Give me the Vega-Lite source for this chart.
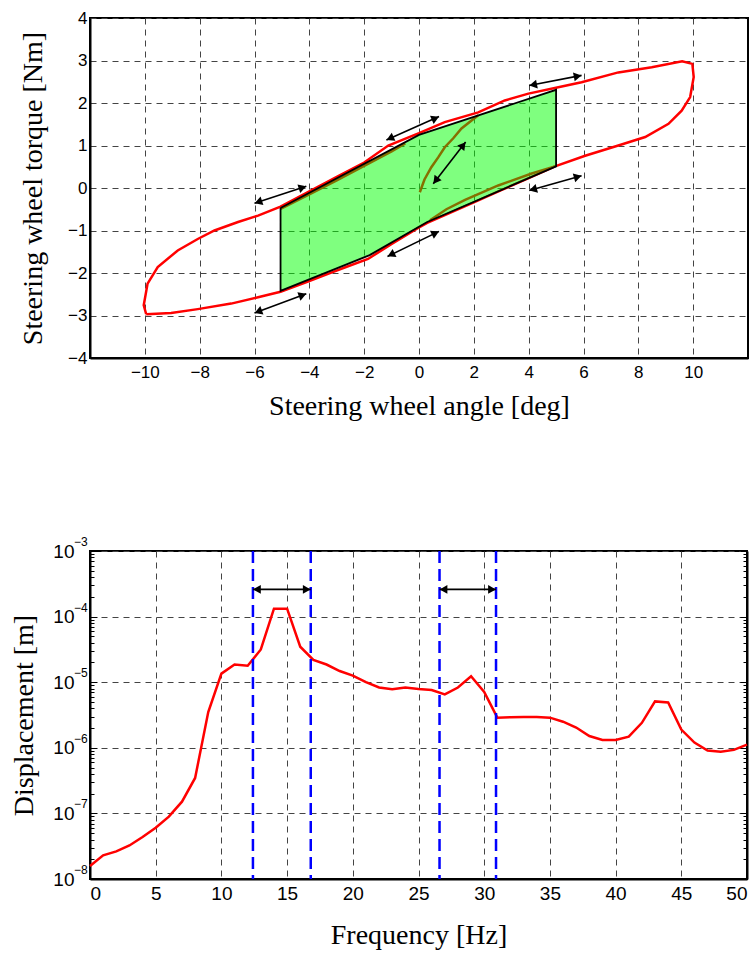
{
  "$schema": "https://vega.github.io/schema/vega-lite/v6.json",
  "padding": {"left": 9, "top": 8, "right": 0, "bottom": 0},
  "background": "white",
  "datasets": {
    "loop": [
      {"i": 1, "x": -9.95, "y": -2.97}, {"i": 2, "x": -9.04, "y": -2.94}, {"i": 3, "x": -8.07, "y": -2.85},
      {"i": 4, "x": -6.85, "y": -2.72}, {"i": 5, "x": -5.87, "y": -2.57}, {"i": 6, "x": -5.05, "y": -2.44},
      {"i": 7, "x": -4.05, "y": -2.2}, {"i": 8, "x": -3.2, "y": -1.99}, {"i": 9, "x": -2.71, "y": -1.87},
      {"i": 10, "x": -1.86, "y": -1.67}, {"i": 11, "x": -1.01, "y": -1.32}, {"i": 12, "x": -0.03, "y": -0.94},
      {"i": 13, "x": 0.3, "y": -0.82}, {"i": 14, "x": 2.0, "y": -0.34}, {"i": 15, "x": 3.0, "y": -0.05},
      {"i": 16, "x": 4.0, "y": 0.23}, {"i": 17, "x": 4.96, "y": 0.51}, {"i": 18, "x": 6.06, "y": 0.76},
      {"i": 19, "x": 7.27, "y": 1.0}, {"i": 20, "x": 8.25, "y": 1.2}, {"i": 21, "x": 9.1, "y": 1.51},
      {"i": 22, "x": 9.58, "y": 1.82}, {"i": 23, "x": 9.89, "y": 2.14}, {"i": 24, "x": 10.02, "y": 2.61},
      {"i": 25, "x": 9.97, "y": 2.92}, {"i": 26, "x": 9.6, "y": 2.98}, {"i": 27, "x": 8.49, "y": 2.84},
      {"i": 28, "x": 7.27, "y": 2.72}, {"i": 29, "x": 5.93, "y": 2.49}, {"i": 30, "x": 5.08, "y": 2.37},
      {"i": 31, "x": 3.99, "y": 2.22}, {"i": 32, "x": 3.13, "y": 2.06}, {"i": 33, "x": 2.16, "y": 1.78},
      {"i": 34, "x": 0.94, "y": 1.55}, {"i": 35, "x": 0.0, "y": 1.29}, {"i": 36, "x": -1.12, "y": 1.0},
      {"i": 37, "x": -2.0, "y": 0.6}, {"i": 38, "x": -3.0, "y": 0.26}, {"i": 39, "x": -4.0, "y": -0.08},
      {"i": 40, "x": -5.05, "y": -0.44}, {"i": 41, "x": -5.87, "y": -0.65}, {"i": 42, "x": -6.6, "y": -0.8},
      {"i": 43, "x": -7.46, "y": -1.0}, {"i": 44, "x": -8.07, "y": -1.2}, {"i": 45, "x": -8.8, "y": -1.47},
      {"i": 46, "x": -9.53, "y": -1.86}, {"i": 47, "x": -9.9, "y": -2.25}, {"i": 48, "x": -10.04, "y": -2.76},
      {"i": 49, "x": -9.95, "y": -2.97}
    ],
    "poly": [
      {"x": -5.05, "top": -0.47, "bottom": -2.42},
      {"x": -1.8, "top": 0.64, "bottom": -1.58},
      {"x": 0.0, "top": 1.25, "bottom": -0.91},
      {"x": 0.3, "top": 1.31, "bottom": -0.8},
      {"x": 5.0, "top": 2.31, "bottom": 0.51}
    ],
    "outline": [
      {"i": 1, "x": -5.05, "y": -0.47}, {"i": 2, "x": 0.0, "y": 1.25}, {"i": 3, "x": 5.0, "y": 2.31},
      {"i": 4, "x": 5.0, "y": 0.51}, {"i": 5, "x": 0.3, "y": -0.8}, {"i": 6, "x": -1.8, "y": -1.58},
      {"i": 7, "x": -5.05, "y": -2.42}, {"i": 8, "x": -5.05, "y": -0.47}
    ],
    "brown": [
      {"seg": "A", "i": 1, "x": 0.03, "y": -0.1}, {"seg": "A", "i": 2, "x": 0.2, "y": 0.2},
      {"seg": "A", "i": 3, "x": 0.45, "y": 0.49}, {"seg": "A", "i": 4, "x": 0.7, "y": 0.72},
      {"seg": "A", "i": 5, "x": 0.94, "y": 0.96}, {"seg": "A", "i": 6, "x": 1.25, "y": 1.17},
      {"seg": "A", "i": 7, "x": 1.55, "y": 1.4}, {"seg": "A", "i": 8, "x": 2.16, "y": 1.71},
      {"seg": "B", "i": 1, "x": -5.05, "y": -0.49}, {"seg": "B", "i": 2, "x": -4.0, "y": -0.15},
      {"seg": "B", "i": 3, "x": -3.0, "y": 0.18}, {"seg": "B", "i": 4, "x": -2.0, "y": 0.52},
      {"seg": "B", "i": 5, "x": -1.0, "y": 0.86}, {"seg": "B", "i": 6, "x": -0.5, "y": 1.05},
      {"seg": "C", "i": 1, "x": 0.4, "y": -0.76}, {"seg": "C", "i": 2, "x": 1.0, "y": -0.5},
      {"seg": "C", "i": 3, "x": 1.68, "y": -0.28}, {"seg": "C", "i": 4, "x": 2.89, "y": 0.06},
      {"seg": "C", "i": 5, "x": 4.11, "y": 0.34}, {"seg": "C", "i": 6, "x": 4.96, "y": 0.51}
    ],
    "arrows": [
      {"x1": -6.0, "y1": -0.36, "x2": -4.11, "y2": 0.04},
      {"x1": -6.0, "y1": -2.94, "x2": -4.11, "y2": -2.49},
      {"x1": -1.19, "y1": 1.13, "x2": 0.73, "y2": 1.68},
      {"x1": 4.02, "y1": 2.41, "x2": 5.93, "y2": 2.65},
      {"x1": 0.52, "y1": 0.1, "x2": 1.7, "y2": 1.08},
      {"x1": 4.02, "y1": -0.06, "x2": 5.93, "y2": 0.29},
      {"x1": -1.15, "y1": -1.61, "x2": 0.73, "y2": -1.02}
    ],
    "freq": [
      {"f": 0, "d": 1.58e-8}, {"f": 1, "d": 2.29e-8}, {"f": 2, "d": 2.63e-8}, {"f": 3, "d": 3.24e-8},
      {"f": 4, "d": 4.37e-8}, {"f": 5, "d": 6.03e-8}, {"f": 6, "d": 8.91e-8}, {"f": 7, "d": 1.51e-7},
      {"f": 8, "d": 3.47e-7}, {"f": 9, "d": 3.5e-6}, {"f": 10, "d": 1.35e-5}, {"f": 11, "d": 1.86e-5},
      {"f": 12, "d": 1.78e-5}, {"f": 13, "d": 3.16e-5}, {"f": 14, "d": 1.32e-4}, {"f": 15, "d": 1.32e-4},
      {"f": 16, "d": 3.47e-5}, {"f": 17, "d": 2.19e-5}, {"f": 18, "d": 1.86e-5}, {"f": 19, "d": 1.48e-5},
      {"f": 20, "d": 1.26e-5}, {"f": 21, "d": 1.0e-5}, {"f": 22, "d": 8.3e-6}, {"f": 23, "d": 7.8e-6},
      {"f": 24, "d": 8.3e-6}, {"f": 25, "d": 7.9e-6}, {"f": 26, "d": 7.6e-6}, {"f": 27, "d": 6.5e-6},
      {"f": 28, "d": 8.3e-6}, {"f": 29, "d": 1.23e-5}, {"f": 30, "d": 7.1e-6}, {"f": 31, "d": 2.88e-6},
      {"f": 32, "d": 2.92e-6}, {"f": 33, "d": 2.95e-6}, {"f": 34, "d": 2.95e-6}, {"f": 35, "d": 2.88e-6},
      {"f": 36, "d": 2.5e-6}, {"f": 37, "d": 2.04e-6}, {"f": 38, "d": 1.51e-6}, {"f": 39, "d": 1.32e-6},
      {"f": 40, "d": 1.32e-6}, {"f": 41, "d": 1.48e-6}, {"f": 42, "d": 2.4e-6}, {"f": 43, "d": 5.1e-6},
      {"f": 44, "d": 4.9e-6}, {"f": 45, "d": 1.9e-6}, {"f": 46, "d": 1.2e-6}, {"f": 47, "d": 9.1e-7},
      {"f": 48, "d": 8.7e-7}, {"f": 49, "d": 9.3e-7}, {"f": 50, "d": 1.12e-6}
    ],
    "bands": [{"f": 12.4}, {"f": 16.8}, {"f": 26.6}, {"f": 30.9}],
    "spans": [{"f1": 12.4, "f2": 16.8, "d": 2.6e-4}, {"f1": 26.6, "f2": 30.9, "d": 2.6e-4}],
    "exps": [
      {"v": 1e-8, "e": "−8"}, {"v": 1e-7, "e": "−7"}, {"v": 1e-6, "e": "−6"},
      {"v": 1e-5, "e": "−5"}, {"v": 1e-4, "e": "−4"}, {"v": 1e-3, "e": "−3"}
    ]
  },
  "vconcat": [
    {
      "width": 658,
      "height": 340,
      "layer": [
        {
          "data": {"name": "loop"},
          "mark": {"type": "line", "color": "#ff0000", "strokeWidth": 2.5},
          "encoding": {
            "x": {"field": "x", "type": "quantitative", "scale": {"domain": [-12, 12], "nice": false, "zero": false},
                  "axis": {"title": "Steering wheel angle [deg]", "values": [-10, -8, -6, -4, -2, 0, 2, 4, 6, 8, 10], "labelPadding": 6, "titlePadding": 12}},
            "y": {"field": "y", "type": "quantitative", "scale": {"domain": [-4, 4], "nice": false, "zero": false},
                  "axis": {"title": "Steering wheel torque [Nm]", "values": [-4, -3, -2, -1, 0, 1, 2, 3, 4], "labelPadding": 3, "titlePadding": 20}},
            "order": {"field": "i", "type": "quantitative"}
          }
        },
        {
          "data": {"name": "poly"},
          "mark": {"type": "area", "color": "#00ff00", "fillOpacity": 0.5},
          "encoding": {
            "x": {"field": "x", "type": "quantitative"},
            "y": {"field": "top", "type": "quantitative"},
            "y2": {"field": "bottom"}
          }
        },
        {
          "data": {"name": "brown"},
          "mark": {"type": "line", "color": "#857000", "strokeWidth": 2.5},
          "encoding": {
            "x": {"field": "x", "type": "quantitative"},
            "y": {"field": "y", "type": "quantitative"},
            "detail": {"field": "seg"},
            "order": {"field": "i", "type": "quantitative"}
          }
        },
        {
          "data": {"name": "outline"},
          "mark": {"type": "line", "color": "black", "strokeWidth": 1.8},
          "encoding": {
            "x": {"field": "x", "type": "quantitative"},
            "y": {"field": "y", "type": "quantitative"},
            "order": {"field": "i", "type": "quantitative"}
          }
        },
        {
          "data": {"name": "arrows"},
          "mark": {"type": "rule", "color": "black", "strokeWidth": 1.6},
          "encoding": {
            "x": {"field": "x1", "type": "quantitative"},
            "y": {"field": "y1", "type": "quantitative"},
            "x2": {"field": "x2"},
            "y2": {"field": "y2"}
          }
        },
        {
          "data": {"name": "arrows"},
          "mark": {"type": "point", "shape": "triangle-right", "filled": true, "color": "black", "opacity": 1, "size": 80,
                   "angle": {"expr": "atan2(-(datum.y2-datum.y1)*42.5, (datum.x2-datum.x1)*27.42)*180/PI"},
                   "xOffset": {"expr": "-4*cos(atan2(-(datum.y2-datum.y1)*42.5, (datum.x2-datum.x1)*27.42))"},
                   "yOffset": {"expr": "-4*sin(atan2(-(datum.y2-datum.y1)*42.5, (datum.x2-datum.x1)*27.42))"}},
          "encoding": {
            "x": {"field": "x2", "type": "quantitative"},
            "y": {"field": "y2", "type": "quantitative"}
          }
        },
        {
          "data": {"name": "arrows"},
          "mark": {"type": "point", "shape": "triangle-right", "filled": true, "color": "black", "opacity": 1, "size": 80,
                   "angle": {"expr": "atan2(-(datum.y2-datum.y1)*42.5, (datum.x2-datum.x1)*27.42)*180/PI + 180"},
                   "xOffset": {"expr": "4*cos(atan2(-(datum.y2-datum.y1)*42.5, (datum.x2-datum.x1)*27.42))"},
                   "yOffset": {"expr": "4*sin(atan2(-(datum.y2-datum.y1)*42.5, (datum.x2-datum.x1)*27.42))"}},
          "encoding": {
            "x": {"field": "x1", "type": "quantitative"},
            "y": {"field": "y1", "type": "quantitative"}
          }
        }
      ]
    },
    {
      "width": 657,
      "height": 328,
      "layer": [
        {
          "data": {"name": "freq"},
          "mark": {"type": "line", "color": "#ff0000", "strokeWidth": 2.5},
          "encoding": {
            "x": {"field": "f", "type": "quantitative", "scale": {"domain": [0, 50], "nice": false},
                  "axis": {"title": "Frequency [Hz]", "values": [0, 5, 10, 15, 20, 25, 30, 35, 40, 45, 50], "labelFontSize": 19, "labelPadding": 5, "titlePadding": 18}},
            "y": {"field": "d", "type": "quantitative", "scale": {"type": "log", "domain": [1e-8, 1e-3], "nice": false},
                  "axis": {
                    "title": "Displacement [m]",
                    "titlePadding": 14,
                    "labelFontSize": 19,
                    "labelPadding": 23,
                    "values": [1e-8, 2e-8, 3e-8, 4e-8, 5e-8, 6e-8, 7e-8, 8e-8, 9e-8,
                               1e-7, 2e-7, 3e-7, 4e-7, 5e-7, 6e-7, 7e-7, 8e-7, 9e-7,
                               1e-6, 2e-6, 3e-6, 4e-6, 5e-6, 6e-6, 7e-6, 8e-6, 9e-6,
                               1e-5, 2e-5, 3e-5, 4e-5, 5e-5, 6e-5, 7e-5, 8e-5, 9e-5,
                               1e-4, 2e-4, 3e-4, 4e-4, 5e-4, 6e-4, 7e-4, 8e-4, 9e-4, 1e-3],
                    "labelExpr": "abs(log(datum.value)/LN10 - round(log(datum.value)/LN10)) < 0.001 ? '10' : ''",
                    "gridOpacity": {"condition": {"test": "abs(log(datum.value)/LN10 - round(log(datum.value)/LN10)) < 0.001", "value": 1}, "value": 0},
                    "ticks": true,
                    "tickColor": "black",
                    "tickSize": {"condition": {"test": "abs(log(datum.value)/LN10 - round(log(datum.value)/LN10)) < 0.001", "value": -7}, "value": -4}
                  }},
            "order": {"field": "f", "type": "quantitative"}
          }
        },
        {
          "data": {"name": "bands"},
          "mark": {"type": "rule", "color": "#0000ff", "strokeWidth": 2.5, "strokeDash": [12, 6]},
          "encoding": {
            "x": {"field": "f", "type": "quantitative"}
          }
        },
        {
          "data": {"name": "spans"},
          "mark": {"type": "rule", "color": "black", "strokeWidth": 1.6},
          "encoding": {
            "x": {"field": "f1", "type": "quantitative"},
            "x2": {"field": "f2"},
            "y": {"field": "d", "type": "quantitative",
                  "axis": {"orient": "right", "title": null, "labels": false, "grid": false, "ticks": true, "tickColor": "black",
                           "values": [1e-8, 2e-8, 3e-8, 4e-8, 5e-8, 6e-8, 7e-8, 8e-8, 9e-8,
                                      1e-7, 2e-7, 3e-7, 4e-7, 5e-7, 6e-7, 7e-7, 8e-7, 9e-7,
                                      1e-6, 2e-6, 3e-6, 4e-6, 5e-6, 6e-6, 7e-6, 8e-6, 9e-6,
                                      1e-5, 2e-5, 3e-5, 4e-5, 5e-5, 6e-5, 7e-5, 8e-5, 9e-5,
                                      1e-4, 2e-4, 3e-4, 4e-4, 5e-4, 6e-4, 7e-4, 8e-4, 9e-4, 1e-3],
                           "tickSize": {"condition": {"test": "abs(log(datum.value)/LN10 - round(log(datum.value)/LN10)) < 0.001", "value": -7}, "value": -4}}}
          }
        },
        {
          "data": {"name": "spans"},
          "mark": {"type": "point", "shape": "triangle-left", "filled": true, "color": "black", "opacity": 1, "size": 80, "xOffset": 4},
          "encoding": {
            "x": {"field": "f1", "type": "quantitative"},
            "y": {"field": "d", "type": "quantitative", "axis": null}
          }
        },
        {
          "data": {"name": "spans"},
          "mark": {"type": "point", "shape": "triangle-right", "filled": true, "color": "black", "opacity": 1, "size": 80, "xOffset": -4},
          "encoding": {
            "x": {"field": "f2", "type": "quantitative"},
            "y": {"field": "d", "type": "quantitative", "axis": null}
          }
        },
        {
          "data": {"name": "exps"},
          "mark": {"type": "text", "align": "left", "baseline": "middle", "font": "Liberation Sans", "fontSize": 12, "color": "black", "dx": -16, "dy": -9},
          "encoding": {
            "x": {"datum": 0, "type": "quantitative"},
            "y": {"field": "v", "type": "quantitative", "axis": null},
            "text": {"field": "e"}
          }
        }
      ],
      "resolve": {"axis": {"y": "independent"}}
    }
  ],
  "spacing": 114,
  "config": {
    "view": {"stroke": "black", "strokeWidth": 2},
    "axis": {
      "grid": true,
      "gridColor": "#444444",
      "gridDash": [6, 5],
      "gridWidth": 1,
      "domainColor": "black",
      "domainWidth": 2,
      "ticks": false,
      "labelFont": "Liberation Sans",
      "labelFontSize": 17,
      "labelColor": "black",
      "titleFont": "Liberation Serif",
      "titleFontSize": 28,
      "titleFontWeight": "normal",
      "titleColor": "black"
    }
  }
}
